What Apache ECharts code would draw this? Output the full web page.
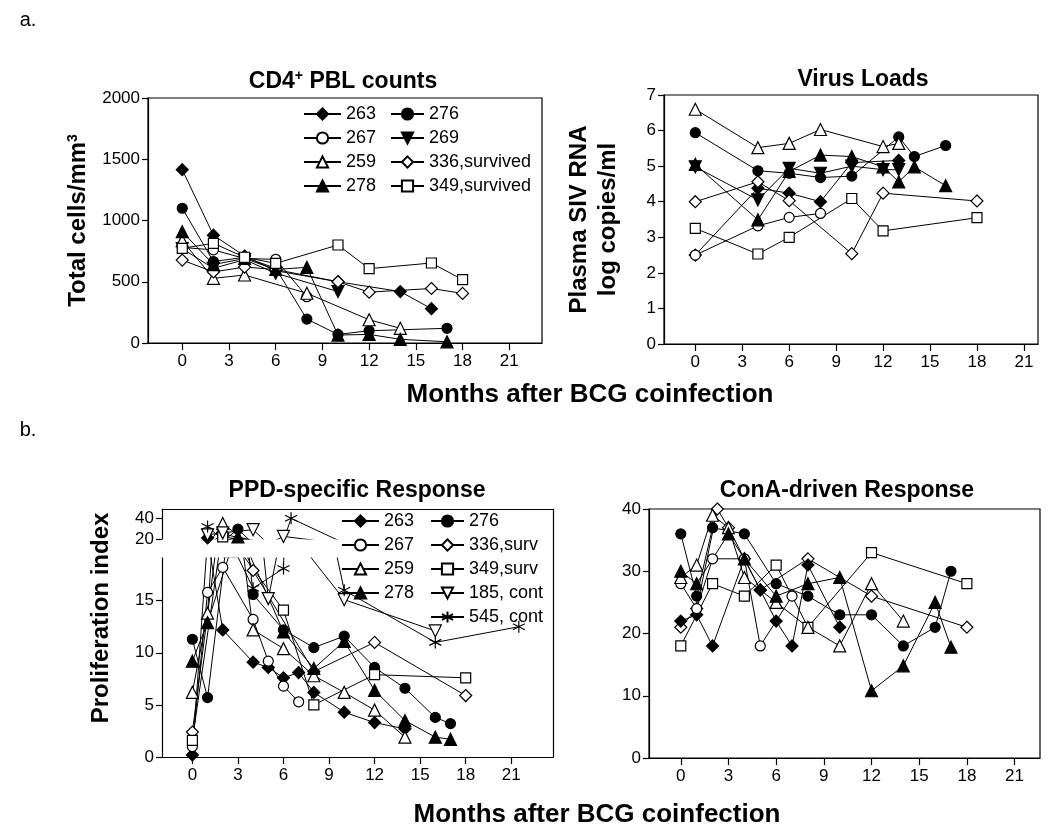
<!DOCTYPE html>
<html>
<head>
<meta charset="utf-8">
<title>BCG coinfection</title>
<script src="https://cdn.jsdelivr.net/npm/echarts@6/dist/echarts.min.js"></script>
<style>
  html, body { margin: 0; padding: 0; background: #fff; }
  #chart { width: 1053px; height: 831px; }
</style>
</head>
<body>
<div id="chart"></div>
<script>
  // x ticks (months after BCG coinfection), shared by all four panels
  var monthTicks = [0, 3, 6, 9, 12, 15, 18, 21];

  // a. CD4+ PBL counts, total cells/mm3  [month, value]
  var cd4_263 = [[0, 1415], [2, 880], [4, 710], [6, 590], [10, 500], [14, 420], [16, 280]];
  var cd4_276 = [[0, 1100], [2, 665], [4, 700], [6, 610], [8, 195], [10, 70], [12, 100], [17, 120]];
  var cd4_267 = [[0, 780], [2, 760], [4, 690], [6, 683], [8, 378]];
  var cd4_269 = [[0, 770], [2, 610], [4, 680], [6, 570], [10, 420]];
  var cd4_259 = [[0, 835], [2, 528], [4, 555], [8, 406], [12, 190], [14, 120]];
  var cd4_336 = [[0, 677], [2, 580], [4, 620], [6, 600], [10, 500], [12, 415], [16, 445], [18, 405]];
  var cd4_278 = [[0, 909], [2, 640], [4, 690], [6, 600], [8, 618], [10, 65], [12, 70], [14, 30], [17, 10]];
  var cd4_349 = [[0, 773], [2, 814], [4, 700], [6, 650], [10, 800], [12, 607], [16, 653], [18, 517]];

  // a. Virus loads, plasma SIV RNA log copies/ml
  var vl_263 = [[0, 2.5], [4, 4.38], [6, 4.24], [8, 4.0], [10, 5.1], [13, 5.16]];
  var vl_276 = [[0, 5.94], [4, 4.87], [6, 4.8], [8, 4.68], [10, 4.72], [13, 5.82], [14, 5.27], [16, 5.58]];
  var vl_267 = [[0, 2.5], [4, 3.32], [6, 3.56], [8, 3.67]];
  var vl_269 = [[0, 4.98], [4, 4.05], [6, 4.94], [8, 4.8], [10, 5.0], [12, 4.9], [13, 4.9]];
  var vl_259 = [[0, 6.6], [4, 5.52], [6, 5.64], [8, 6.03], [12, 5.55], [13, 5.64]];
  var vl_336 = [[0, 4.0], [4, 4.56], [6, 4.03], [10, 2.54], [12, 4.24], [18, 4.02]];
  var vl_278 = [[0, 5.05], [4, 3.49], [6, 4.85], [8, 5.31], [10, 5.27], [12, 4.98], [13, 4.56], [14, 4.98], [16, 4.45]];
  var vl_349 = [[0, 3.25], [4, 2.53], [6, 3.0], [10, 4.09], [12, 3.18], [18, 3.55]];

  // b. PPD-specific response, proliferation index
  var ppd_263 = [[0, 0.2], [1, 21], [2, 12.2], [4, 9.1], [5, 8.6], [6, 7.6], [7, 8.1], [8, 6.2], [10, 4.3], [12, 3.3], [14, 2.7]];
  var ppd_276 = [[0, 11.3], [1, 5.7], [3, 29.5], [4, 15.6], [6, 12.2], [8, 10.5], [10, 11.6], [12, 8.6], [14, 6.6], [16, 3.8], [17, 3.2]];
  var ppd_267 = [[0, 1.0], [1, 15.8], [2, 18.2], [4, 13.2], [5, 9.2], [6, 6.8], [7, 5.3]];
  var ppd_259 = [[0, 6.2], [1, 13.8], [2, 35], [4, 12.2], [6, 10.4], [8, 7.8], [10, 6.2], [12, 4.5], [14, 1.9]];
  var ppd_278 = [[0, 9.2], [1, 12.9], [3, 22], [6, 12.0], [8, 8.5], [10, 11.1], [12, 6.4], [14, 3.5], [16, 1.9], [17, 1.7]];
  var ppd_336 = [[0, 2.4], [2, 25], [4, 17.9], [8, 8.2], [12, 11], [18, 5.9]];
  var ppd_349 = [[0, 1.6], [2, 22], [6, 14.1], [8, 5.0], [12, 7.9], [18, 7.6]];
  var ppd_185 = [[1, 24], [2, 26], [4, 29], [5, 15.2], [6, 22.5], [10, 15.1], [16, 12.1]];
  var ppd_545 = [[1, 32], [2, 19.2], [3, 19.2], [4, 16.2], [6, 18.1], [6.5, 40], [10, 16], [16, 11], [21.5, 12.5]];

  // b. ConA-driven response
  var cona_263 = [[0, 22], [1, 23], [2, 18], [4, 32], [5, 27], [6, 22], [7, 18], [8, 31], [10, 21]];
  var cona_276 = [[0, 36], [1, 26], [2, 37], [4, 36], [6, 28], [8, 26], [10, 23], [12, 23], [14, 18], [16, 21], [17, 30]];
  var cona_267 = [[0, 28], [1, 24], [2, 32], [4, 32], [5, 18], [7, 26]];
  var cona_259 = [[0, 29], [1, 31], [2, 39], [3, 37], [4, 29], [6, 25], [8, 21], [10, 18], [12, 28], [14, 22]];
  var cona_278 = [[0, 30], [1, 28], [3, 36], [4, 32], [6, 26], [8, 28], [10, 29], [12, 10.8], [14, 14.8], [16, 25], [17, 17.8]];
  var cona_336 = [[0, 21], [1, 24], [2.3, 40], [3, 37], [5, 27], [8, 32], [12, 26], [18, 21]];
  var cona_349 = [[0, 18], [2, 28], [4, 26], [6, 31], [8, 21], [12, 33], [18, 28]];

  var FONT = 'Liberation Sans, Arial, Helvetica, sans-serif';
  var STAR = 'path://M5,0L5,10M0.67,2.5L9.33,7.5M0.67,7.5L9.33,2.5';

  // marker per animal
  var marks = {
    '263': { symbol: 'diamond', size: 12, fill: '#000' },
    '276': { symbol: 'circle', size: 10, fill: '#000' },
    '267': { symbol: 'circle', size: 10, fill: '#fff' },
    '269': { symbol: 'triangle', size: 12, fill: '#000', rotate: 180 },
    '259': { symbol: 'triangle', size: 12, fill: '#fff' },
    '336': { symbol: 'diamond', size: 12, fill: '#fff' },
    '278': { symbol: 'triangle', size: 12, fill: '#000' },
    '349': { symbol: 'rect', size: 10, fill: '#fff' },
    '185': { symbol: 'triangle', size: 12, fill: '#fff', rotate: 180 },
    '545': { symbol: STAR, size: 12, fill: '#000' }
  };

  function line(name, key, data, idx) {
    var m = marks[key];
    return {
      name: name, type: 'line', data: data,
      xAxisIndex: idx, yAxisIndex: idx,
      symbol: m.symbol, symbolSize: m.size, symbolRotate: m.rotate || 0,
      showAllSymbol: true, clip: true, animation: false,
      lineStyle: { color: '#000', width: 1 },
      itemStyle: { color: m.fill, borderColor: '#000', borderWidth: 1.2 },
      emphasis: { disabled: true }
    };
  }

  function plain(v) { return String(v); }

  var axisPen = { color: '#000', width: 1.2 };

  function xAxis(grid, min, max, show) {
    return {
      type: 'value', gridIndex: grid, min: min, max: max, show: show !== false,
      splitLine: { show: false },
      axisLine: { onZero: false, lineStyle: axisPen },
      axisTick: { customValues: monthTicks, length: 7, lineStyle: axisPen },
      axisLabel: { customValues: monthTicks, margin: 10, color: '#000', fontSize: 17, fontFamily: FONT, formatter: plain }
    };
  }

  function yAxis(grid, min, max, interval, hideMax) {
    return {
      type: 'value', gridIndex: grid, min: min, max: max, interval: interval,
      splitLine: { show: false },
      axisLine: { show: true, onZero: false, lineStyle: axisPen },
      axisTick: { show: true, length: 6, lineStyle: axisPen },
      axisLabel: { margin: 8, color: '#000', fontSize: 17, fontFamily: FONT, formatter: plain, showMaxLabel: !hideMax }
    };
  }

  // bare axis line, used to close the broken PPD frame (top and right)
  function edge(type, grid, position) {
    return {
      type: 'value', gridIndex: grid, position: position, min: 0, max: 1,
      splitLine: { show: false }, axisTick: { show: false }, axisLabel: { show: false },
      axisLine: { show: true, onZero: false, lineStyle: axisPen }
    };
  }

  var nameStyle = {
    color: '#000', fontSize: 24, fontWeight: 'bold', fontFamily: FONT,
    rich: { sup: { color: '#000', fontSize: 14, fontWeight: 'bold', fontFamily: FONT, verticalAlign: 'bottom', padding: [0, 0, 11, 0] } }
  };

  function legendCol(names, left, top, itemWidth) {
    return {
      data: names, orient: 'vertical', left: left, top: top, padding: 0,
      itemWidth: itemWidth, itemHeight: 14, itemGap: 6, selectedMode: false,
      textStyle: { color: '#000', fontSize: 18, fontFamily: FONT, lineHeight: 14 }
    };
  }

  var grids = [
    { left: 148, top: 98, width: 394, height: 245, show: true },   // CD4
    { left: 664, top: 95, width: 374, height: 249, show: true },   // virus loads
    { left: 162, top: 558, width: 391, height: 199, show: false }, // PPD below break
    { left: 162, top: 509, width: 391, height: 30, show: false },  // PPD above break
    { left: 649, top: 509, width: 391, height: 249, show: true },  // ConA
    { left: 162, top: 509, width: 391, height: 248, show: false }  // PPD frame
  ].map(function (g) {
    g.borderColor = '#000'; g.borderWidth = 1.2; g.outerBoundsMode = 'none';
    return g;
  });

  var xAxes = [
    xAxis(0, -2.2, 23.1),
    xAxis(1, -2, 21.9),
    xAxis(2, -2, 23.75),
    xAxis(3, -2, 23.75, false),
    xAxis(4, -2, 22.6),
    edge('x', 5, 'top')
  ];

  var yCd4 = yAxis(0, 0, 2000, 500);
  yCd4.name = 'Total cells/mm{sup|3}';
  yCd4.nameLocation = 'middle'; yCd4.nameGap = 57; yCd4.nameTextStyle = nameStyle;

  var yVl = yAxis(1, 0, 7, 1);
  yVl.name = 'Plasma SIV RNA\nlog copies/ml';
  yVl.nameLocation = 'middle'; yVl.nameGap = 41;
  yVl.nameTextStyle = { color: '#000', fontSize: 24, fontWeight: 'bold', fontFamily: FONT, lineHeight: 29 };

  var yFrame = {
    type: 'value', gridIndex: 5, min: 0, max: 1, position: 'left',
    axisLine: { show: false }, axisTick: { show: false }, axisLabel: { show: false }, splitLine: { show: false },
    name: 'Proliferation index', nameLocation: 'middle', nameGap: 49,
    nameTextStyle: { color: '#000', fontSize: 24, fontWeight: 'bold', fontFamily: FONT, padding: [0, 0, 0, 30] }
  };

  var yAxes = [yCd4, yVl, yAxis(2, 0, 19.1, 5, true), yAxis(3, 20, 49, 20, true), yAxis(4, 0, 40, 10), yFrame, edge('y', 5, 'right')];

  var series = [
    line('263', '263', cd4_263, 0), line('276', '276', cd4_276, 0),
    line('267', '267', cd4_267, 0), line('269', '269', cd4_269, 0),
    line('259', '259', cd4_259, 0), line('336,survived', '336', cd4_336, 0),
    line('278', '278', cd4_278, 0), line('349,survived', '349', cd4_349, 0),

    line('263', '263', vl_263, 1), line('276', '276', vl_276, 1),
    line('267', '267', vl_267, 1), line('269', '269', vl_269, 1),
    line('259', '259', vl_259, 1), line('336,survived', '336', vl_336, 1),
    line('278', '278', vl_278, 1), line('349,survived', '349', vl_349, 1),

    line('336,surv', '336', cona_336, 4), line('349,surv', '349', cona_349, 4),
    line('263', '263', cona_263, 4), line('276', '276', cona_276, 4),
    line('267', '267', cona_267, 4), line('259', '259', cona_259, 4),
    line('278', '278', cona_278, 4)
  ];
  // PPD panel: each animal drawn below and above the axis break
  [2, 3].forEach(function (idx) {
    series.push(
      line('263', '263', ppd_263, idx), line('276', '276', ppd_276, idx),
      line('267', '267', ppd_267, idx), line('336,surv', '336', ppd_336, idx),
      line('259', '259', ppd_259, idx), line('349,surv', '349', ppd_349, idx),
      line('278', '278', ppd_278, idx), line('185, cont', '185', ppd_185, idx),
      line('545, cont', '545', ppd_545, idx)
    );
  });

  function label(text, x, y, size, weight, rich) {
    return {
      type: 'text', x: x, y: y, silent: true,
      style: {
        text: text, fill: '#000', fontSize: size, fontWeight: weight, fontFamily: FONT,
        align: 'center', verticalAlign: 'middle', textAlign: 'center', textVerticalAlign: 'middle',
        rich: rich || {}
      }
    };
  }
  var supRich = { sup: { fill: '#000', fontSize: 14, fontWeight: 'bold', fontFamily: FONT, verticalAlign: 'bottom', padding: [0, 0, 11, 0] } };

  var chart = echarts.init(document.getElementById('chart'));
  chart.setOption({
    animation: false,
    backgroundColor: '#fff',
    textStyle: { fontFamily: FONT },
    grid: grids,
    xAxis: xAxes,
    yAxis: yAxes,
    legend: [
      legendCol(['263', '267', '259', '278'], 303, 105, 37),
      legendCol(['276', '269', '336,survived', '349,survived'], 390, 105, 33),
      legendCol(['263', '267', '259', '278'], 341, 512, 37),
      legendCol(['276', '336,surv', '349,surv', '185, cont', '545, cont'], 430, 512, 33)
    ],
    graphic: [
      label('a.', 28, 20, 20, 'normal'),
      label('b.', 28, 430, 20, 'normal'),
      label('CD4{sup|+} PBL counts', 343, 82, 23, 'bold', supRich),
      label('Virus Loads', 863, 80, 23, 'bold'),
      label('PPD-specific Response', 357, 491, 23, 'bold'),
      label('ConA-driven Response', 847, 491, 23, 'bold'),
      label('Months after BCG coinfection', 590, 395, 26, 'bold'),
      label('Months after BCG coinfection', 597, 815, 26, 'bold')
    ],
    series: series
  });
</script>
</body>
</html>
